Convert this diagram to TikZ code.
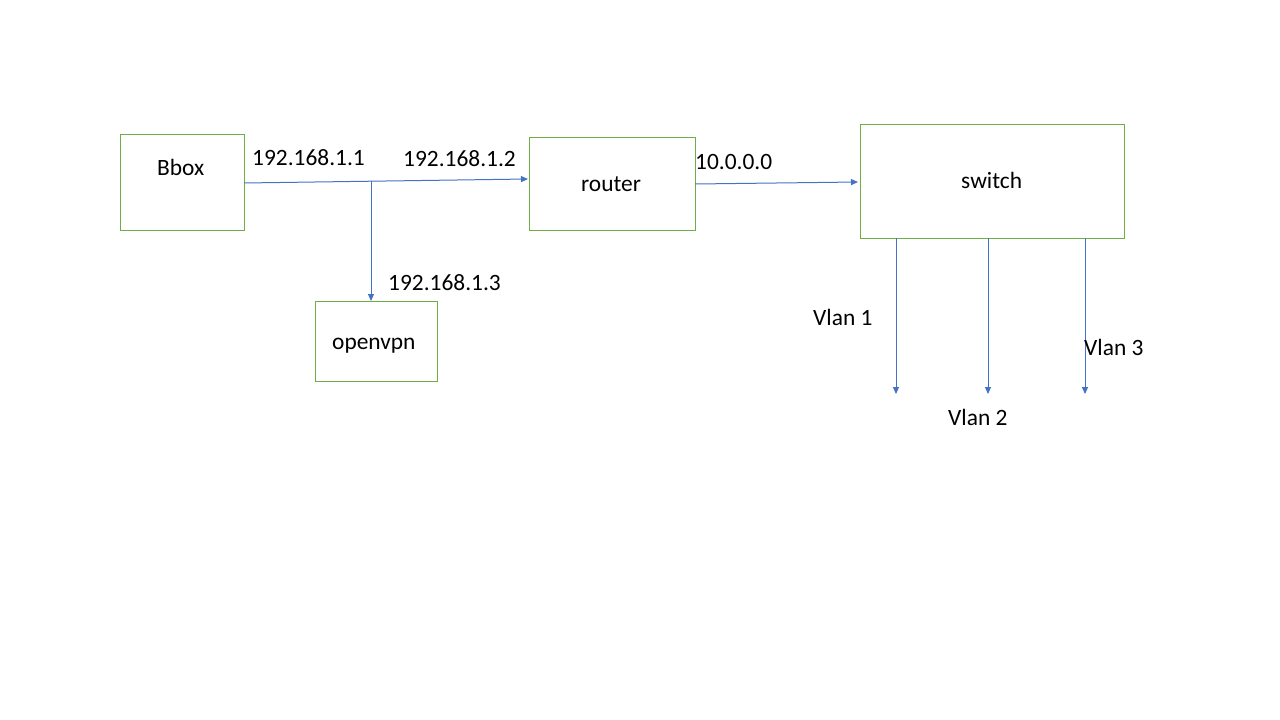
\documentclass[tikz,border=0pt]{standalone}
\usepackage{fontspec}
\setmainfont{Carlito}
\usetikzlibrary{arrows.meta}
\definecolor{boxgreen}{HTML}{70AD47}
\definecolor{lineblue}{HTML}{4472C4}
\tikzset{
  devbox/.style={draw=boxgreen, line width=1pt, fill=white, inner sep=0pt, outer sep=0pt},
  conn/.style={draw=lineblue, line width=1pt, -{Triangle[length=7pt,width=6pt]}},
  lbl/.style={inner sep=0pt, anchor=base west, font=\fontsize{23.4pt}{27pt}\selectfont},
}
\begin{document}
\begin{tikzpicture}[x=1pt,y=-1pt]
\useasboundingbox (0,0) rectangle (1280,720);
% boxes
\node[devbox, minimum width=124pt, minimum height=96pt] (bbox) at (182,182) {};
\node[devbox, minimum width=166pt, minimum height=93pt] (router) at (612,183.5) {};
\node[devbox, minimum width=264pt, minimum height=114pt] (switch) at (992,181) {};
\node[devbox, minimum width=122pt, minimum height=80pt] (openvpn) at (376,341) {};
% box texts
\node[lbl] (bboxtxt) at (157,175) {Bbox};
\node[lbl] (routertxt) at (581,191) {router};
\node[lbl] (switchtxt) at (961,188) {switch};
\node[lbl] (openvpntxt) at (332,349) {openvpn};
% free ends and branch point
\coordinate (branch) at (371,181);
\coordinate (v1) at (896,394);
\coordinate (v2) at (988,394);
\coordinate (v3) at (1085,394);
% connectors
\draw[conn] ([yshift=-1pt]bbox.east) -- ([yshift=4.5pt,xshift=-1pt]router.west);
\draw[conn] (branch) -- (branch |- openvpn.north);
\draw[conn] ([yshift=-0.5pt]router.east) -- ([xshift=-2pt,yshift=-1pt]switch.west);
\draw[conn] (v1 |- switch.south) -- (v1);
\draw[conn] (v2 |- switch.south) -- (v2);
\draw[conn] (v3 |- switch.south) -- (v3);
% labels
\node[lbl] (ip1) at (252,165) {192.168.1.1};
\node[lbl] (ip2) at (403,166) {192.168.1.2};
\node[lbl] (ip3) at (388,290) {192.168.1.3};
\node[lbl] (ip4) at (695,169) {10.0.0.0};
\node[lbl] (vl1) at (813,325) {Vlan 1};
\node[lbl] (vl2) at (948,425) {Vlan 2};
\node[lbl] (vl3) at (1084,355) {Vlan 3};
\end{tikzpicture}
\end{document}
